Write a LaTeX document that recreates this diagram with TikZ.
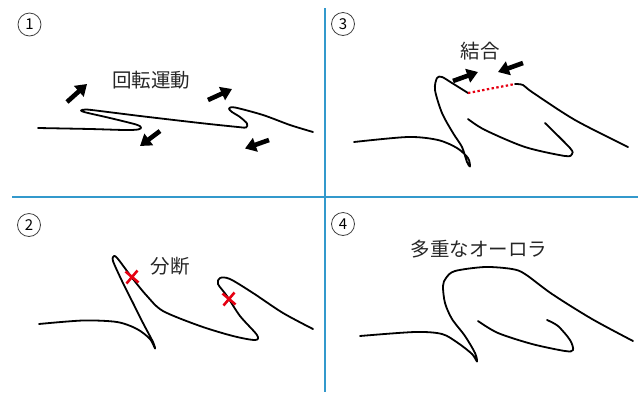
\documentclass[tikz,border=0pt]{standalone}
\usepackage{fontspec}
\setmainfont{Noto Sans CJK JP}
\usetikzlibrary{arrows.meta}
\definecolor{divider}{RGB}{51,153,204}
\definecolor{cutred}{RGB}{230,0,18}
\begin{document}
\begin{tikzpicture}[x=1pt,y=-1pt,
  aurora/.style={line width=1.8pt, line cap=round, line join=round},
  fatarrow/.style={line width=4.6pt, -{Triangle[length=11pt,width=14pt]}},
  panelnum/.style={circle, draw=black!75, line width=0.8pt, minimum size=23pt, inner sep=0pt, font=\fontsize{15}{15}\selectfont},
  caption/.style={font=\fontsize{19.5}{20}\selectfont, text=black!85, inner sep=0pt},
  cutmark/.style={draw=cutred, line width=2.6pt}]
\useasboundingbox (0,0) rectangle (643,392);

% panel dividers
\draw[divider, line width=2pt] (324.5,8) -- (324.5,392);
\draw[divider, line width=2pt] (12,196.5) -- (638,196.5);

% panel numbers
\node[panelnum] (n1) at (29.5,24.5) {1};
\node[panelnum] (n3) at (343,24) {3};
\node[panelnum] (n2) at (29,225) {2};
\node[panelnum] (n4) at (343,224) {4};

% ---- 1: rotation ----
\node[caption] (t1) at (151,80) {回転運動};
\draw[aurora] plot[smooth, tension=0.5] coordinates {
  (38,128) (90,129) (125,130) (138,129.5) (141,127.5) (136,124.5)
  (110,118) (86,112.5) (81,110.5) (86,109.5) (100,111) (140,116)
  (200,123) (238,127) (246,127.5) (247,123.5) (240,117) (232,112)
  (229,108.5) (235,107.5) (263,115) (290,125) (313,132)};
\coordinate (a1s) at (67,102);  \coordinate (a1e) at (87,84);
\coordinate (a2s) at (208,100); \coordinate (a2e) at (232,89);
\coordinate (a3s) at (160,131); \coordinate (a3e) at (140,146);
\coordinate (a4s) at (269,140); \coordinate (a4e) at (245,148.5);
\draw[fatarrow] (a1s) -- (a1e);
\draw[fatarrow] (a2s) -- (a2e);
\draw[fatarrow] (a3s) -- (a3e);
\draw[fatarrow] (a4s) -- (a4e);

% ---- 2: breaking ----
\node[caption] (t2) at (170,266) {分断};
\draw[aurora] plot[smooth, tension=0.5] coordinates {
  (39,324) (83,320.5) (117,322) (137,329) (150,339) (155,348.5)
  (153,342) (143,323) (133,303) (122,281) (113,261) (114,256)
  (118,259) (133,279) (147,296) (163,311) (200,326) (233,336)
  (255,340) (257,335) (240,316) (227,296) (218,284) (220,278)
  (230,279) (253,293) (283,313) (313,329)};
\foreach \cx/\cy [count=\i] in {132/277, 229/299} {
  \coordinate (x\i) at (\cx,\cy);
  \draw[cutmark] ([shift={(-6.5,-5.5)}]x\i) -- ([shift={(6.5,5.5)}]x\i);
  \draw[cutmark] ([shift={(-5.5,6.5)}]x\i) -- ([shift={(5.5,-6.5)}]x\i);
}

% ---- 3: joining ----
\node[caption] (t3) at (480,51) {結合};
\coordinate (j1) at (468,93);
\coordinate (j2) at (515,84);
\draw[aurora] plot[smooth, tension=0.5] coordinates {
  (354,142) (408,137) (438,140) (457,148) (468,158) (470,166.5)
  (467,162) (462,147) (453,133) (442,113) (435,90) (437,78)
  (442,77) (452,83) (468,93)};
\draw[aurora] plot[smooth, tension=0.5] coordinates {
  (515,84) (523,85) (532,92) (575,120) (628,147)};
\draw[aurora] plot[smooth, tension=0.5] coordinates {
  (468,119) (485,130) (525,147) (565,156) (572,154) (570,148) (545,123)};
\draw[cutred, line width=2.2pt, dash pattern=on 2.4pt off 2.4pt] (j1) -- (j2);
\coordinate (b1s) at (453,81);  \coordinate (b1e) at (478,72);
\coordinate (b2s) at (523,63);  \coordinate (b2e) at (498,72);
\draw[fatarrow] (b1s) -- (b1e);
\draw[fatarrow] (b2s) -- (b2e);

% ---- 4: multiple aurora ----
\node[caption] (t4) at (479,249) {多重なオーロラ};
\draw[aurora] plot[smooth, tension=0.5] coordinates {
  (360,336) (415,332) (442,334) (458,343) (472,354) (477,361.5)
  (475,353) (465,336) (452,319) (445,303) (443,286) (446,278)
  (455,271) (485,267) (512,269) (525,274) (552,294) (592,319) (633,341)};
\draw[aurora] plot[smooth, tension=0.5] coordinates {
  (478,321) (498,333) (532,344) (565,351) (573,350) (570,340)
  (558,326) (547,320)};
\end{tikzpicture}
\end{document}
